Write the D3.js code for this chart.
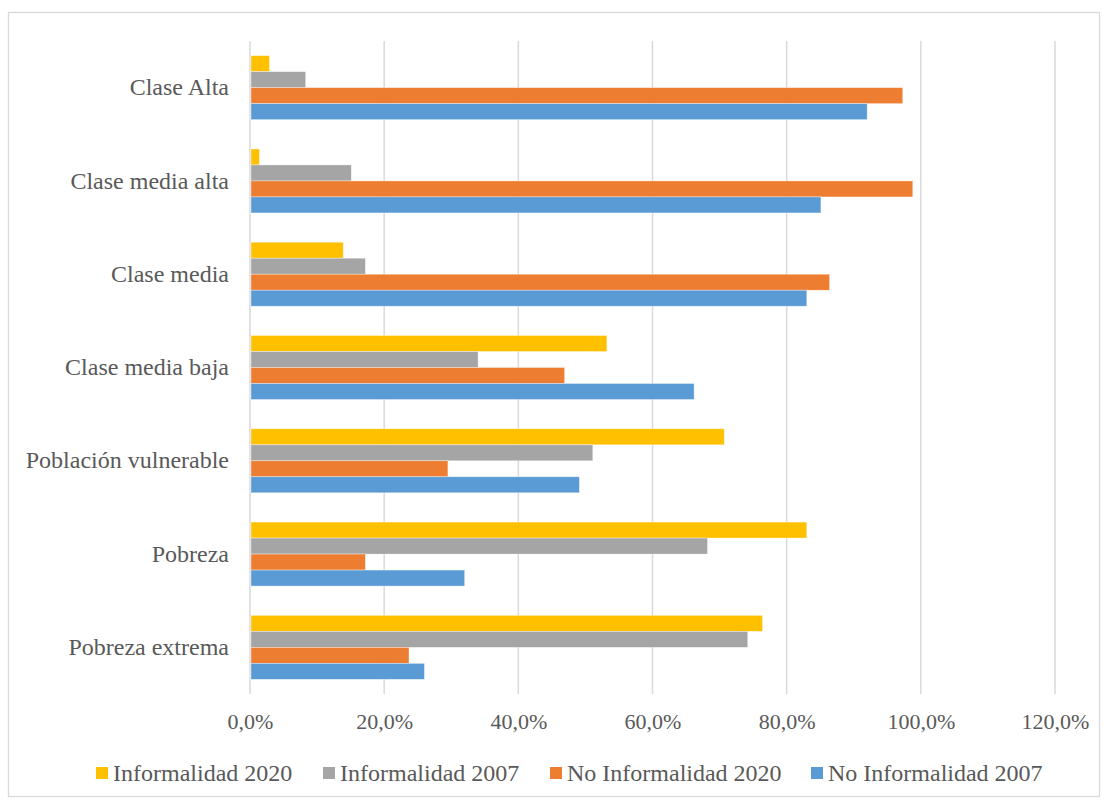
<!DOCTYPE html>
<meta charset="utf-8">
<title>Informalidad por clase social</title>
<style>
    body { margin: 0; background: #fff; }
    svg text { font-family: "Liberation Serif", "Times New Roman", serif; fill: #595959; }
</style>
<body>
<div id="chart"></div>
<script src="https://d3js.org/d3.v7.min.js"></script>
<script>
// categories, top to bottom
var categories = ["Clase Alta", "Clase media alta", "Clase media", "Clase media baja",
    "Población vulnerable", "Pobreza", "Pobreza extrema"];

// series (legend order = drawing order inside each group)
var seriesNames = ["Informalidad 2020", "Informalidad 2007", "No Informalidad 2020", "No Informalidad 2007"];
var seriesColors = ["#FFC000", "#A5A5A5", "#ED7D31", "#5B9BD5"];

var informalidad2020 = [2.9, 1.4, 13.9, 53.2, 70.7, 83.0, 76.4];
var informalidad2007 = [8.3, 15.1, 17.2, 34.0, 51.1, 68.2, 74.2];
var noInformalidad2020 = [97.3, 98.8, 86.4, 46.9, 29.5, 17.2, 23.7];
var noInformalidad2007 = [92.0, 85.1, 83.0, 66.2, 49.1, 32.0, 26.0];

var xTicks = [0, 20, 40, 60, 80, 100, 120];

var seriesValues = [informalidad2020, informalidad2007, noInformalidad2020, noInformalidad2007];

var W = 1108, H = 803;
var plot = { left: 250, right: 1055, top: 41, bottom: 694 };

var svg = d3.select("#chart").append("svg")
    .attr("width", W)
    .attr("height", H);

// outer frame
svg.append("rect")
    .attr("x", 8.5).attr("y", 12.5)
    .attr("width", 1091).attr("height", 784)
    .attr("fill", "#fff")
    .attr("stroke", "#d9d9d9")
    .attr("stroke-width", 1.3);

var x = d3.scaleLinear().domain([0, 120]).range([plot.left, plot.right]);
var y = d3.scaleBand().domain(categories).range([plot.top, plot.bottom])
    .paddingInner(0.314).paddingOuter(0.157);
var ySub = d3.scaleBand().domain(seriesNames).range([0, y.bandwidth()]);

// gridlines
svg.append("g")
    .selectAll("line")
    .data(xTicks)
    .join("line")
    .attr("x1", function (d) { return x(d); })
    .attr("x2", function (d) { return x(d); })
    .attr("y1", plot.top)
    .attr("y2", plot.bottom)
    .attr("stroke", "#d9d9d9")
    .attr("stroke-width", 1.5);

// bars
seriesNames.forEach(function (name, i) {
    svg.append("g")
        .selectAll("rect")
        .data(seriesValues[i])
        .join("rect")
        .attr("x", x(0) + 1)
        .attr("y", function (d, j) { return y(categories[j]) + ySub(name); })
        .attr("width", function (d) { return x(d) - x(0) - 1; })
        .attr("height", ySub.bandwidth())
        .attr("fill", seriesColors[i])
        .attr("stroke", "#fff")
        .attr("stroke-opacity", 0.5)
        .attr("stroke-width", 0.7);
});

// x axis labels
var xAxis = svg.append("g")
    .attr("transform", "translate(0," + plot.bottom + ")")
    .call(d3.axisBottom(x).tickValues(xTicks).tickSize(0)
        .tickFormat(function (d) { return d.toFixed(1).replace(".", ",") + "%"; }));
xAxis.select(".domain").remove();
xAxis.selectAll("text")
    .attr("y", 35)
    .attr("dy", null)
    .attr("font-size", "22px")
    .attr("font-family", "Liberation Serif")
    .attr("fill", "#595959");

// y axis labels
var yAxis = svg.append("g")
    .attr("transform", "translate(" + plot.left + ",0)")
    .call(d3.axisLeft(y).tickSize(0).tickPadding(21));
yAxis.select(".domain").remove();
yAxis.selectAll("text")
    .attr("font-size", "24px")
    .attr("font-family", "Liberation Serif")
    .attr("fill", "#595959");

// legend
var legendStarts = [96, 323, 550, 811];
var legend = svg.append("g");
seriesNames.forEach(function (name, i) {
    var g = legend.append("g").attr("transform", "translate(" + legendStarts[i] + ",767)");
    g.append("rect")
        .attr("x", 0).attr("y", 0)
        .attr("width", 12).attr("height", 12)
        .attr("fill", seriesColors[i]);
    g.append("text")
        .attr("x", 17).attr("y", 14)
        .attr("font-size", "24px")
        .text(name);
});
</script>
</body>
